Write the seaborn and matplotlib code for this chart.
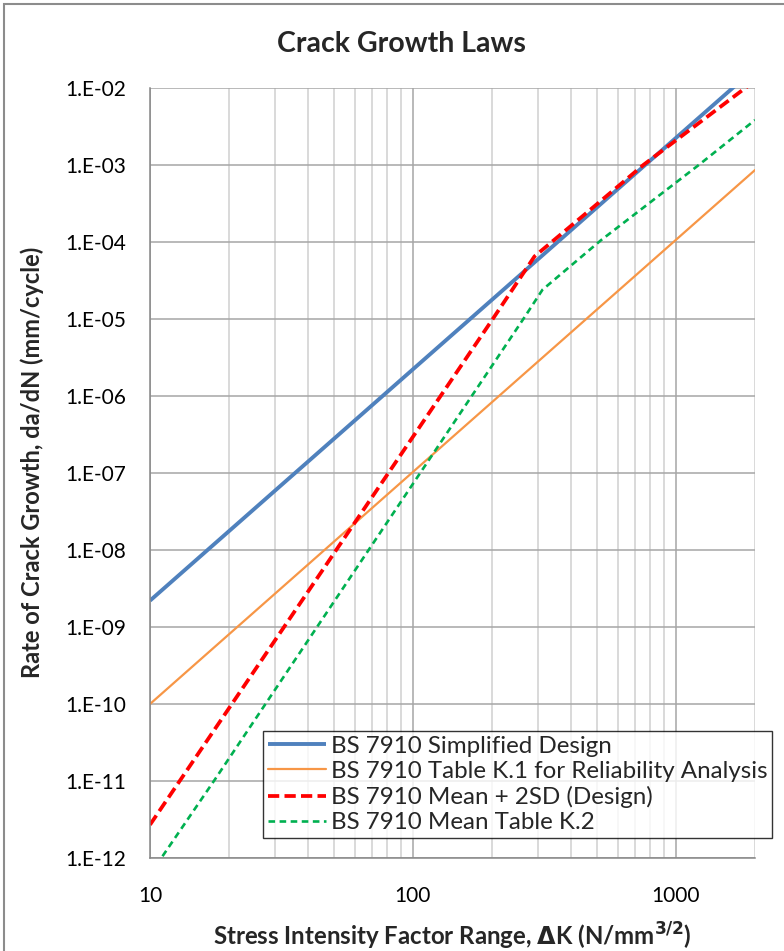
import numpy as np
import pandas as pd
import matplotlib
matplotlib.use("Agg")
import matplotlib.pyplot as plt
import matplotlib.ticker as mticker
from matplotlib.patches import Rectangle
import seaborn as sns

# --- data (delta K in N/mm^3/2, da/dN in mm/cycle) ---
simplified_dk = [10, 2000]
simplified_rate = [2.2e-9, 1.8e-2]

k1_dk = [10, 2000]
k1_rate = [1.0e-10, 8.6e-4]

mean2sd_dk = [10, 200, 290, 512, 752, 1837, 2000]
mean2sd_rate = [2.7e-12, 9.7e-6, 6.5e-5, 3.3e-4, 1.0e-3, 1.0e-2, 1.25e-2]

mean_k2_dk = [10, 17.6, 266, 311, 520, 1222, 2000]
mean_k2_rate = [6.1e-13, 1.03e-11, 1.06e-5, 2.4e-5, 1.06e-4, 1.0e-3, 3.84e-3]

series_names = ["BS 7910 Simplified Design",
                "BS 7910 Table K.1 for Reliability Analysis",
                "BS 7910 Mean + 2SD (Design)",
                "BS 7910 Mean Table K.2"]

ytick_vals = [1e-12, 1e-11, 1e-10, 1e-9, 1e-8, 1e-7, 1e-6, 1e-5, 1e-4, 1e-3, 1e-2]
ytick_labels = ["1.E-12", "1.E-11", "1.E-10", "1.E-09", "1.E-08", "1.E-07",
                "1.E-06", "1.E-05", "1.E-04", "1.E-03", "1.E-02"]
xtick_vals = [10, 100, 1000]
xtick_labels = ["10", "100", "1000"]

sns.set_style("white")
plt.rcParams['font.family'] = ['Lato', 'DejaVu Sans']

W, H = 784, 951
fig = plt.figure(figsize=(W / 100, H / 100), dpi=100)
ax = fig.add_axes([150 / W, 1 - 858 / H, (755 - 150) / W, (858 - 88) / H])

sns.lineplot(x=simplified_dk, y=simplified_rate, ax=ax, color="#4F81BD", lw=2.8,
             label=series_names[0], solid_capstyle="butt")
sns.lineplot(x=k1_dk, y=k1_rate, ax=ax, color="#F79646", lw=1.6,
             label=series_names[1])
sns.lineplot(x=mean2sd_dk, y=mean2sd_rate, ax=ax, color="#FF0000", lw=2.7,
             linestyle=(0, (3.0, 1.4)), label=series_names[2])
sns.lineplot(x=mean_k2_dk, y=mean_k2_rate, ax=ax, color="#00B050", lw=1.9,
             linestyle=(0, (2.5, 1.7)), label=series_names[3])

ax.set_xscale("log")
ax.set_yscale("log")
ax.set_xlim(10, 2000)
ax.set_ylim(1e-12, 1e-2)

ax.yaxis.set_major_locator(mticker.FixedLocator(ytick_vals))
ax.yaxis.set_major_formatter(mticker.FixedFormatter(ytick_labels))
ax.yaxis.set_minor_locator(mticker.NullLocator())
ax.xaxis.set_major_locator(mticker.FixedLocator(xtick_vals))
ax.xaxis.set_major_formatter(mticker.FixedFormatter(xtick_labels))
ax.xaxis.set_minor_locator(mticker.LogLocator(base=10, subs=np.arange(2, 10), numticks=20))
ax.xaxis.set_minor_formatter(mticker.NullFormatter())

ax.grid(which="major", color="#A6A6A6", lw=1.1)
ax.grid(which="minor", axis="x", color="#D0D0D0", lw=1.1)
ax.set_axisbelow(True)

ax.tick_params(axis="both", which="major", direction="out", length=6, width=1,
               color="#868686", labelsize=15, labelcolor="black")
ax.tick_params(axis="y", which="major", pad=11)
ax.tick_params(axis="x", which="major", pad=14)
ax.tick_params(axis="x", which="minor", length=0)
for s in ["top", "right"]:
    ax.spines[s].set_visible(False)
for s in ["left", "bottom"]:
    ax.spines[s].set_color("#868686")
    ax.spines[s].set_linewidth(1.1)

ax.set_xlabel("")
ax.set_ylabel("")
fig.text(401 / W, 1 - 44 / H, "Crack Growth Laws", ha="center", va="center",
         fontsize=20.5, fontweight="bold")
fig.text(32 / W, 1 - 462 / H, "Rate of Crack Growth, da/dN (mm/cycle)", rotation=90,
         ha="center", va="center", fontsize=17, fontweight="bold")
fig.text(452 / W, 1 - 936 / H, r"Stress Intensity Factor Range, $\mathbf{\Delta}$K (N/mm$^{\mathbf{3/2}}$)",
         ha="center", va="center", fontsize=17.3, fontweight="bold")

leg = ax.legend(loc="upper left", bbox_to_anchor=(263 / W, 1 - 731 / H),
                bbox_transform=fig.transFigure, borderaxespad=0, fontsize=17.4,
                handlelength=2.4, handletextpad=0.2, labelspacing=0.17,
                borderpad=0.2, frameon=True, fancybox=False)
leg.get_frame().set_edgecolor("black")
leg.get_frame().set_linewidth(1.0)

fig.patches.append(Rectangle((4 / W, -0.05), 1.2, 1.05 - 4 / H, transform=fig.transFigure,
                             fill=False, edgecolor="#8C8C8C", lw=1.5))

fig.savefig("out.png", dpi=100)
